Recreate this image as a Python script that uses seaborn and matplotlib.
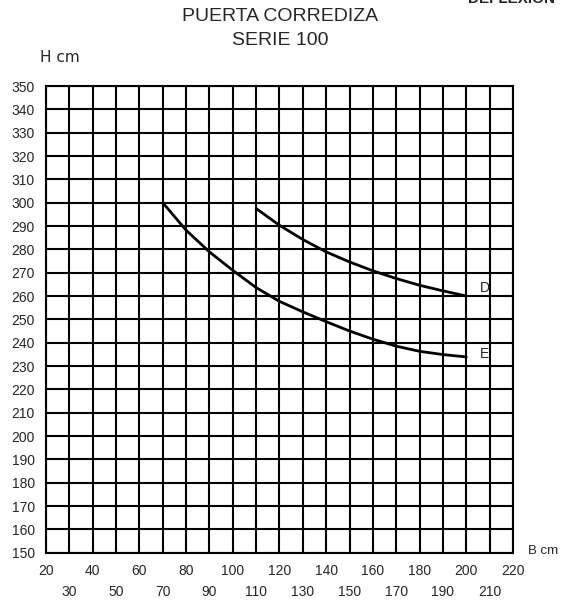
import matplotlib
matplotlib.use("Agg")
import matplotlib.pyplot as plt
from matplotlib.ticker import FixedLocator
import pandas as pd
import seaborn as sns

# Curve D: maximum height for each door width
ancho_d = [110, 120, 130, 140, 150, 160, 170, 180, 190, 200]
alto_d = [297.5, 290.3, 284.2, 278.9, 274.6, 270.8, 267.5, 264.6, 262.2, 260.0]

# Curve E
ancho_e = [70, 80, 90, 100, 110, 120, 130, 140, 150, 160, 170, 180, 190, 200]
alto_e = [300.0, 288.2, 278.9, 271.0, 263.6, 257.7, 253.2, 249.0, 245.0, 241.5, 238.5, 236.3, 234.9, 233.9]

x_top_row = [20, 40, 60, 80, 100, 120, 140, 160, 180, 200, 220]
x_bottom_row = [30, 50, 70, 90, 110, 130, 150, 170, 190, 210]
y_ticks = list(range(150, 351, 10))

sns.set_style("white")
plt.rcParams["font.family"] = ["Liberation Sans", "DejaVu Sans"]

df = pd.concat([
    pd.DataFrame({"B": ancho_d, "H": alto_d, "serie": "D"}),
    pd.DataFrame({"B": ancho_e, "H": alto_e, "serie": "E"}),
])

fig = plt.figure(figsize=(5.61, 6.01), dpi=100)
ax = fig.add_axes([0.082, 0.0804, 0.8324, 0.7765])

sns.lineplot(data=df, x="B", y="H", units="serie", estimator=None,
             color="black", linewidth=2.0, sort=False, legend=False, ax=ax)

ax.set_xlim(20, 220)
ax.set_ylim(150, 350)

ax.xaxis.set_major_locator(FixedLocator(x_top_row))
ax.xaxis.set_minor_locator(FixedLocator(x_bottom_row))
ax.set_xticklabels([str(v) for v in x_top_row])
ax.set_xticklabels([str(v) for v in x_bottom_row], minor=True)
ax.tick_params(axis="x", which="major", length=0, pad=8, labelsize=10)
ax.tick_params(axis="x", which="minor", length=0, pad=23, labelsize=10)

ax.set_yticks(y_ticks)
ax.set_yticklabels([str(v) for v in y_ticks])
ax.tick_params(axis="y", length=0, pad=8, labelsize=10)

ax.grid(True, which="both", color="black", linewidth=1.5)
ax.set_axisbelow(True)
for s in ax.spines.values():
    s.set_color("black")
    s.set_linewidth(1.5)

ax.set_xlabel("")
ax.set_ylabel("")

ax.text(206, 263.3, "D", fontsize=10, va="center", ha="left")
ax.text(206, 235.0, "E", fontsize=10, va="center", ha="left")

fig.text(0.499, 1 - 21 / 601, "PUERTA CORREDIZA", ha="center", va="baseline", fontsize=14)
fig.text(0.499, 1 - 45 / 601, "SERIE 100", ha="center", va="baseline", fontsize=14)
fig.text(40 / 561, 1 - 62 / 601, "H cm", ha="left", va="baseline", fontsize=11,
         family=["DejaVu Sans"])
fig.text(528 / 561, 1 - 551 / 601, "B cm", ha="left", va="center", fontsize=9.5)
fig.text(468 / 561, 1 - 3 / 601, "DEFLEXION", ha="left", va="baseline",
         fontsize=11, fontweight="bold")

fig.savefig("out.png", dpi=100)
